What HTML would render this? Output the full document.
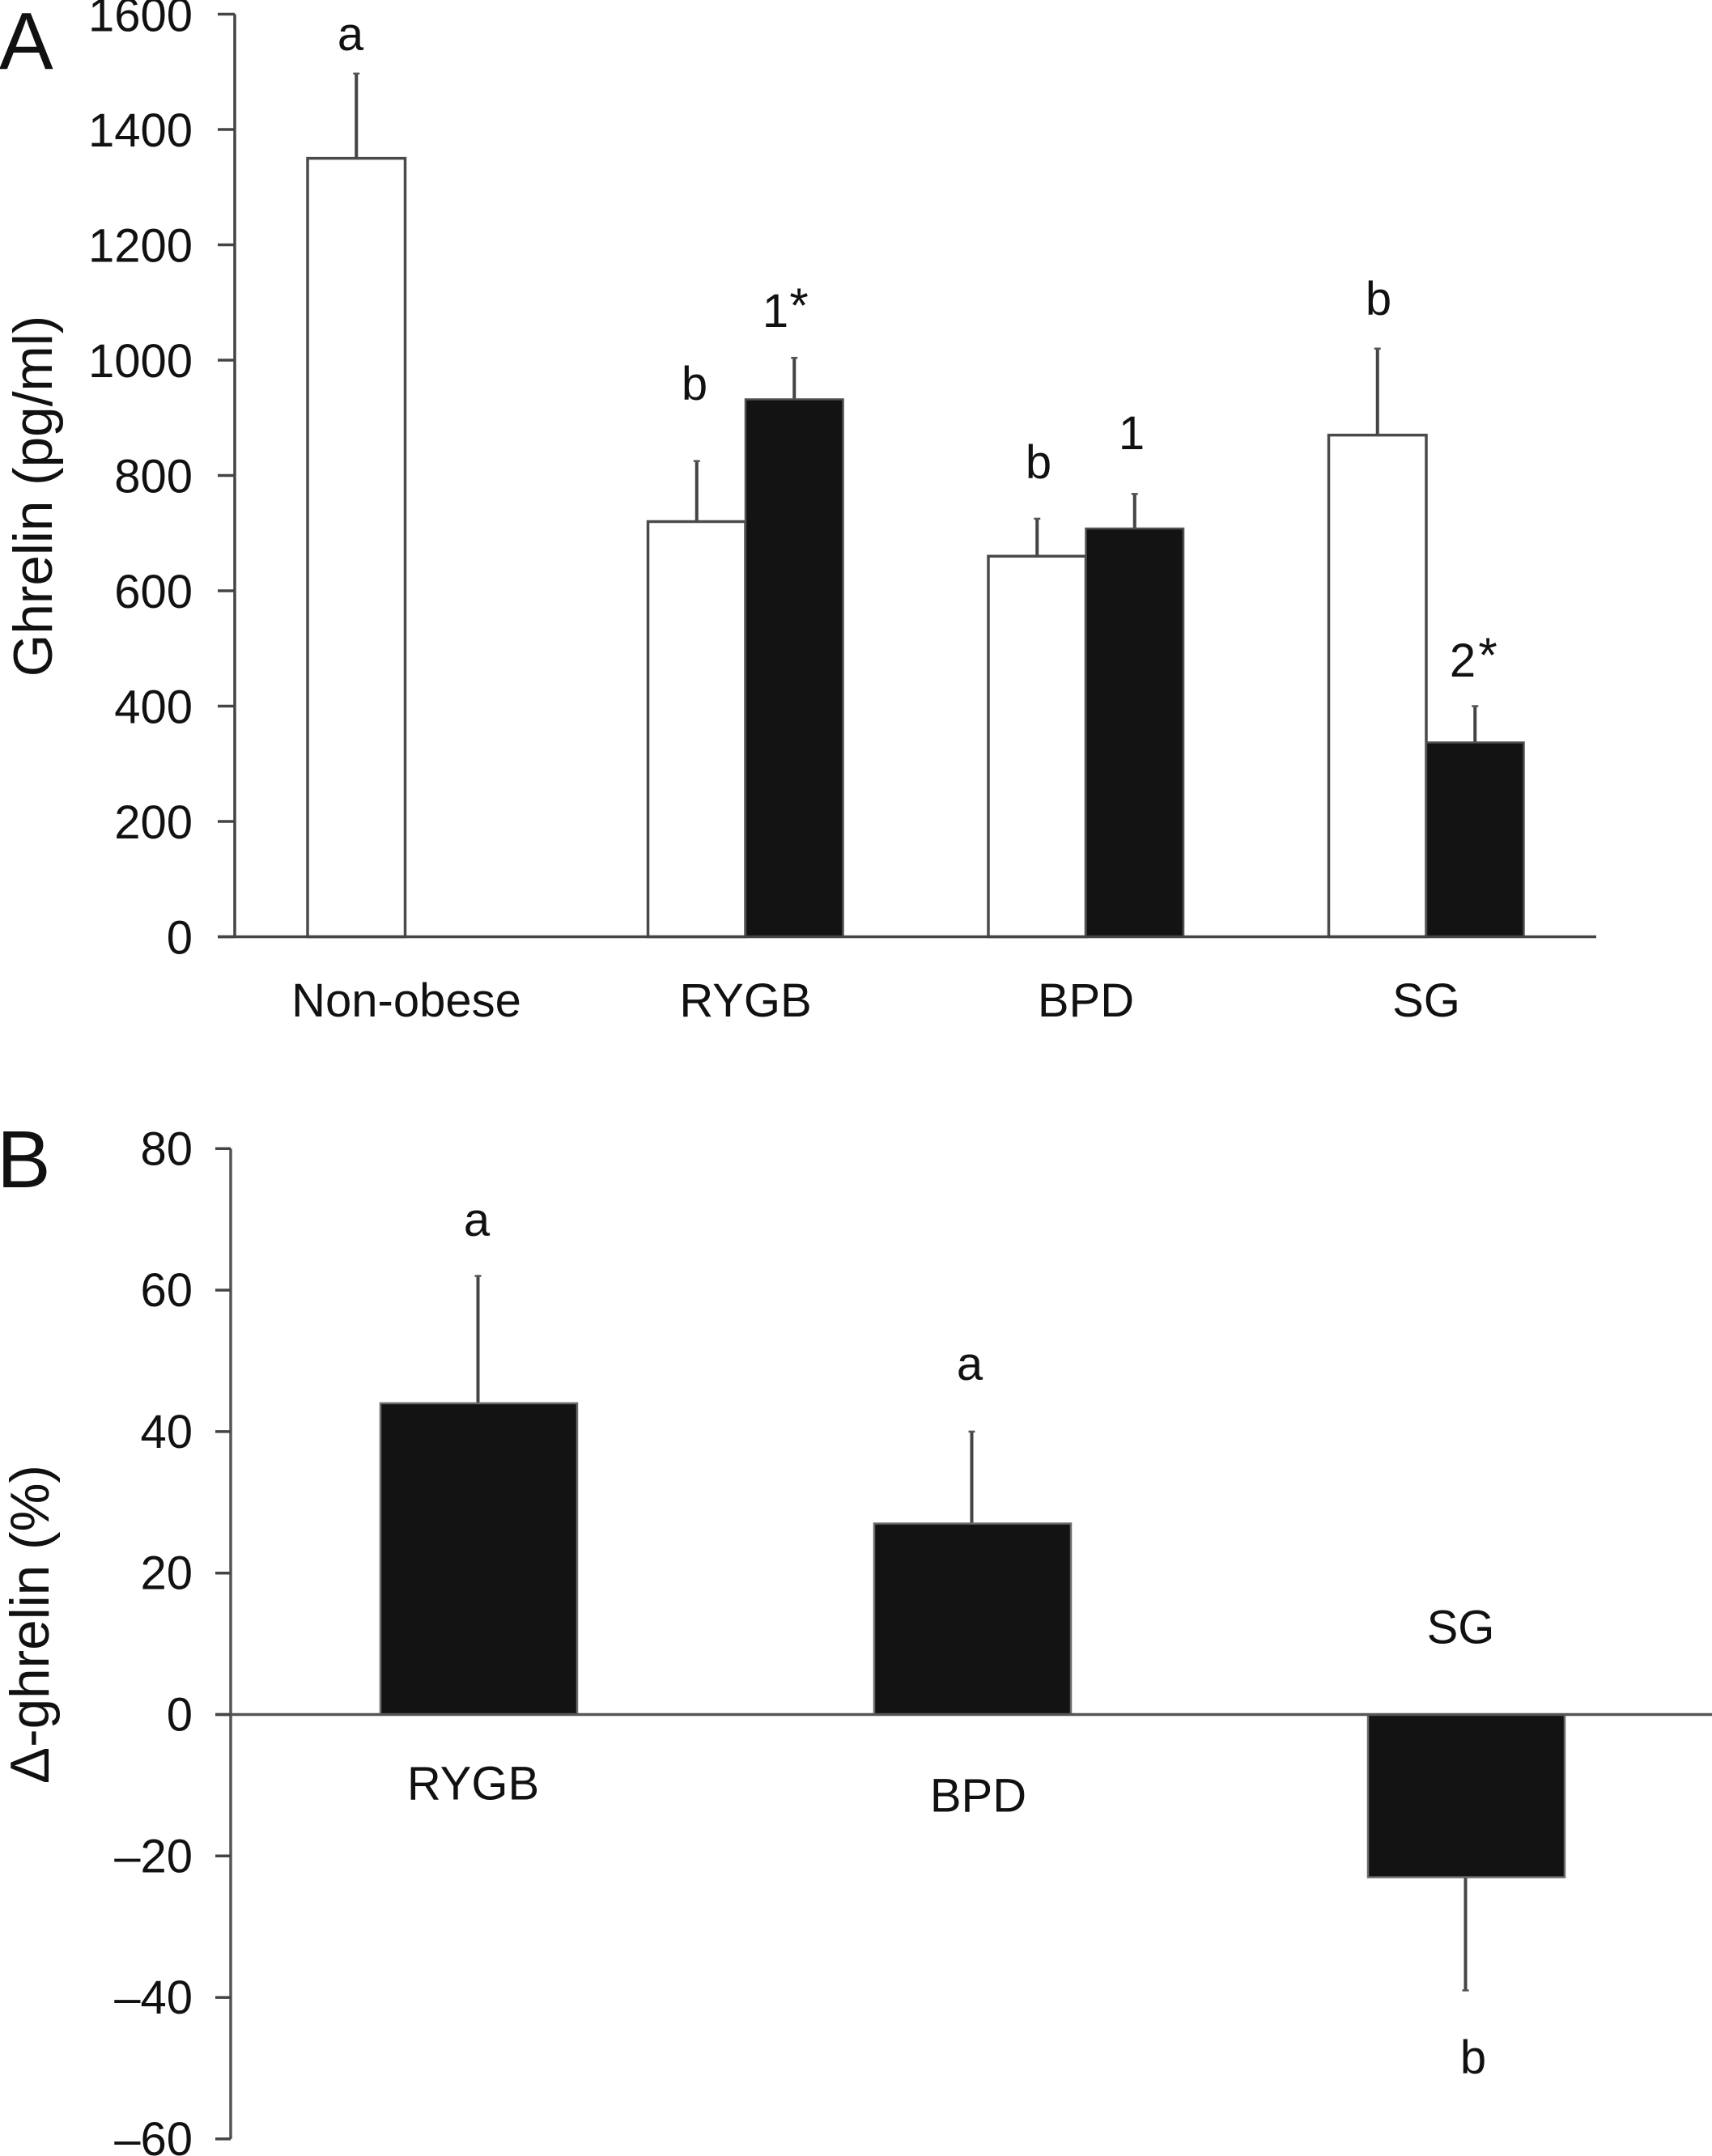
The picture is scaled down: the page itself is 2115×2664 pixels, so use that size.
<!DOCTYPE html>
<html lang="en">
<head>
<meta charset="utf-8">
<title>Ghrelin bar charts</title>
<style>
html,body{margin:0;padding:0;background:#fff;}
svg{display:block;}
text{font-family:"Liberation Sans",sans-serif;fill:#111;font-size:58px;}
.panel{font-size:100px;}
.title{font-size:67.5px;}
</style>
</head>
<body>
<svg id="figure" xmlns="http://www.w3.org/2000/svg" width="2115" height="2664" viewBox="0 0 2115 2664">
  <rect x="0" y="0" width="2115" height="2664" fill="#fff"/>
  <g id="chartA"></g>
  <g id="chartB"></g>

  <text class="panel" x="-1" y="85">A</text>
  <text class="panel" x="-4" y="1467">B</text>

  <text class="title" text-anchor="middle" transform="translate(64 613) rotate(-90)">Ghrelin (pg/ml)</text>
  <text class="title" text-anchor="middle" transform="translate(60 2007) rotate(-90)">Δ-ghrelin (%)</text>

  <text text-anchor="middle" x="433" y="62">a</text>
  <text text-anchor="middle" x="858" y="494">b</text>
  <text text-anchor="middle" x="958" y="404">1</text>
  <text text-anchor="middle" x="987" y="398" style="font-size:60px">*</text>
  <text text-anchor="middle" x="1283" y="591">b</text>
  <text text-anchor="middle" x="1398" y="555">1</text>
  <text text-anchor="middle" x="1703" y="389">b</text>
  <text text-anchor="middle" x="1807" y="836">2</text>
  <text text-anchor="middle" x="1838" y="830" style="font-size:60px">*</text>

  <text text-anchor="middle" x="589" y="1527">a</text>
  <text text-anchor="middle" x="1198" y="1705">a</text>
  <text text-anchor="middle" x="1820" y="2562">b</text>
</svg>
<script>
var groupsA = ["Non-obese", "RYGB", "BPD", "SG"];
var preValues = [1350, 720, 660, 870];
var preErrors = [147, 105, 65, 150];
var postValues = [null, 932, 708, 337];
var postErrors = [null, 72, 60, 63];
var ticksA = [0, 200, 400, 600, 800, 1000, 1200, 1400, 1600];

var groupsB = ["RYGB", "BPD", "SG"];
var deltaValues = [44, 27, -23];
var deltaErrors = [18, 13, 16];
var ticksB = [-60, -40, -20, 0, 20, 40, 60, 80];

var NS = "http://www.w3.org/2000/svg";
function make(parent, tag, attrs, txt) {
  var el = document.createElementNS(NS, tag);
  for (var k in attrs) { el.setAttribute(k, attrs[k]); }
  if (txt !== undefined) { el.textContent = txt; }
  parent.appendChild(el);
  return el;
}
function yA(v) { return 1157.5 - v * 0.7125; }
function xA(i) { return 380 + 420.5 * i; }
var widthA = 120.5;
function yB(v) { return 2118.5 - v * 8.74; }
function xB(i) { return 470 + 610 * i; }
var widthB = 243;
function fmtTick(v) { return v < 0 ? "\u2013" + Math.abs(v) : String(v); }

var gA = document.getElementById("chartA");
var gB = document.getElementById("chartB");
var el, i;

/* ---------- Chart A ---------- */
for (i = 0; i < preValues.length; i++) {
  el = make(gA, "line", {x1: xA(i) + widthA / 2, x2: xA(i) + widthA / 2, y1: yA(preValues[i]), y2: yA(preValues[i] + preErrors[i]), stroke: "#444", "stroke-width": 4});
  
  
  el = make(gA, "line", {x1: xA(i) + widthA / 2 - 4, x2: xA(i) + widthA / 2 + 4, y1: yA(preValues[i] + preErrors[i]), y2: yA(preValues[i] + preErrors[i]), stroke: "#555", "stroke-width": 2.5});
  
  
  el = make(gA, "rect", {x: xA(i), y: yA(preValues[i]), width: widthA, height: yA(0) - yA(preValues[i]), fill: "#fff", stroke: "#4a4a4a", "stroke-width": 3.5});
  
  
}
for (i = 0; i < postValues.length; i++) {
  if (postValues[i] === null) { continue; }
  el = make(gA, "line", {x1: xA(i) + widthA * 1.5, x2: xA(i) + widthA * 1.5, y1: yA(postValues[i]), y2: yA(postValues[i] + postErrors[i]), stroke: "#444", "stroke-width": 4});
  
  
  el = make(gA, "line", {x1: xA(i) + widthA * 1.5 - 4, x2: xA(i) + widthA * 1.5 + 4, y1: yA(postValues[i] + postErrors[i]), y2: yA(postValues[i] + postErrors[i]), stroke: "#555", "stroke-width": 2.5});
  
  
  el = make(gA, "rect", {x: xA(i) + widthA, y: yA(postValues[i]), width: widthA, height: yA(0) - yA(postValues[i]), fill: "#131313", stroke: "#505050", "stroke-width": 2.5});
  
  
}
el = make(gA, "line", {x1: 290, x2: 290, y1: yA(1600), y2: yA(0), stroke: "#444", "stroke-width": 3.5});


el = make(gA, "line", {x1: 269, x2: 1972, y1: yA(0), y2: yA(0), stroke: "#444", "stroke-width": 3.5});


for (i = 0; i < ticksA.length; i++) {
  el = make(gA, "line", {x1: 269, x2: 290, y1: yA(ticksA[i]), y2: yA(ticksA[i]), stroke: "#444", "stroke-width": 3.5});
  
  
  el = make(gA, "text", {x: 238, y: yA(ticksA[i]) + 21, "text-anchor": "end"}, fmtTick(ticksA[i]));
  
  
}
for (i = 0; i < groupsA.length; i++) {
  var cx = i === 0 ? 502 : xA(i) + widthA;
  el = make(gA, "text", {x: cx, y: 1256, "text-anchor": "middle"}, groupsA[i]);
  
  
}

/* ---------- Chart B ---------- */
for (i = 0; i < deltaValues.length; i++) {
  var sign = deltaValues[i] < 0 ? -1 : 1;
  var tip = deltaValues[i] + sign * deltaErrors[i];
  el = make(gB, "line", {x1: xB(i) + widthB / 2 - 1, x2: xB(i) + widthB / 2 - 1, y1: yB(deltaValues[i]), y2: yB(tip), stroke: "#444", "stroke-width": 4});
  
  
  el = make(gB, "line", {x1: xB(i) + widthB / 2 - 5, x2: xB(i) + widthB / 2 + 3, y1: yB(tip), y2: yB(tip), stroke: "#555", "stroke-width": 2.5});
  
  
  el = make(gB, "rect", {x: xB(i), y: Math.min(yB(0), yB(deltaValues[i])), width: widthB, height: Math.abs(yB(0) - yB(deltaValues[i])), fill: "#131313", stroke: "#6a6a6a", "stroke-width": 2.5});
  
  
}
el = make(gB, "line", {x1: 285, x2: 285, y1: yB(80), y2: yB(-60), stroke: "#555", "stroke-width": 3.5});


el = make(gB, "line", {x1: 266, x2: 2115, y1: yB(0), y2: yB(0), stroke: "#555", "stroke-width": 3.5});


for (i = 0; i < ticksB.length; i++) {
  el = make(gB, "line", {x1: 266, x2: 285, y1: yB(ticksB[i]), y2: yB(ticksB[i]), stroke: "#444", "stroke-width": 3.5});
  
  
  el = make(gB, "text", {x: 238, y: yB(ticksB[i]) + 20, "text-anchor": "end"}, fmtTick(ticksB[i]));
  
  
}
var labelOffsetY = [105, 120, -88];
var labelOffsetX = [-7, 7, -7];
for (i = 0; i < groupsB.length; i++) {
  el = make(gB, "text", {x: xB(i) + widthB / 2 + labelOffsetX[i], y: yB(0) + labelOffsetY[i], "text-anchor": "middle"}, groupsB[i]);
  
  
}
</script>
</body>
</html>
